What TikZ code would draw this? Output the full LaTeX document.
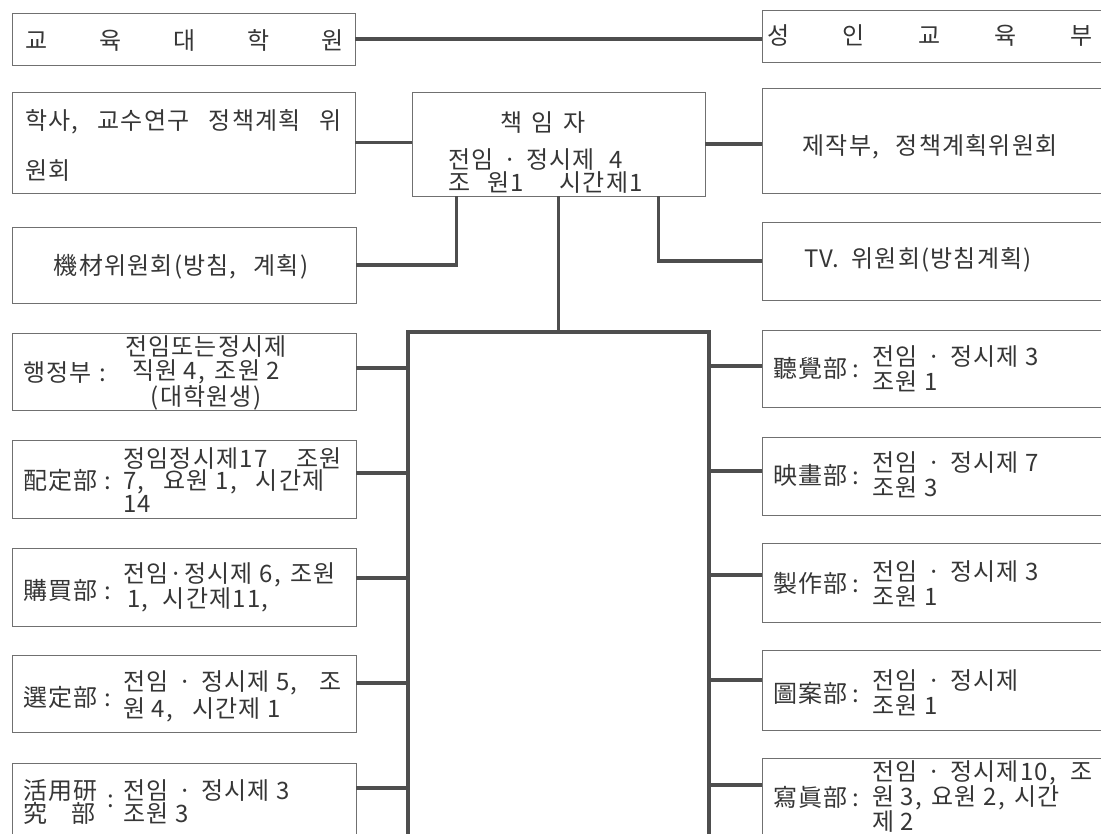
\documentclass[tikz,border=0pt]{standalone}
\usepackage{fontspec}
\setmainfont[LetterSpace=5]{Noto Sans CJK KR}
\usetikzlibrary{fit}
\definecolor{ink}{HTML}{363636}
\definecolor{boxline}{HTML}{707070}
\definecolor{bus}{HTML}{4E4E4E}
\newcommand{\kg}{\hspace{0.4em}}
\tikzset{
  box/.style={draw=boxline, line width=0.9pt, inner sep=0pt, rectangle},
  conn/.style={draw=bus, line width=3.6pt},
  txt/.style={text=ink, inner sep=0pt, font=\fontsize{24}{25}\selectfont, align=left},
}
\begin{document}
\begin{tikzpicture}[x=1pt,y=-1pt]
\useasboundingbox (0,0) rectangle (1101,834);
\clip (0,0) rectangle (1101,834);
% ---------- left boxes
\node[box, fit={(12,13)(355,65)}] (L1) {};
\node[box, fit={(12,92)(355,193)}] (L2) {};
\node[box, fit={(12,227)(356,303)}] (L3) {};
\node[box, fit={(12,333)(356,410)}] (L4) {};
\node[box, fit={(12,440)(356,518)}] (L5) {};
\node[box, fit={(12,548)(356,626)}] (L6) {};
\node[box, fit={(12,655)(356,732)}] (L7) {};
\node[box, fit={(12,763)(356,850)}] (L8) {};
% ---------- centre box
\node[box, fit={(412,92)(705,196)}] (C) {};
% ---------- right boxes
\node[box, fit={(762,10)(1120,62)}] (R1) {};
\node[box, fit={(762,88)(1120,193)}] (R2) {};
\node[box, fit={(762,222)(1120,300)}] (R3) {};
\node[box, fit={(762,330)(1120,407)}] (R4) {};
\node[box, fit={(762,437)(1120,515)}] (R5) {};
\node[box, fit={(762,543)(1120,622)}] (R6) {};
\node[box, fit={(762,650)(1120,730)}] (R7) {};
\node[box, fit={(762,758)(1120,850)}] (R8) {};

% ---------- texts
\node[txt, anchor=west] (tL1) at (25,40) {\makebox[318pt][s]{교\hfill 육\hfill 대\hfill 학\hfill 원}};
\node[txt, anchor=west, font=\fontsize{24}{50}\selectfont] (tL2) at (25,145) {학사,\hspace{0.8em}교수연구\hspace{0.8em}정책계획\hspace{0.8em}위\\원회};
\node[txt] (tL3) at (181,267) {機材위원회(방침,\hspace{0.7em}계획)};
\node[txt, anchor=west] (lL4) at (23,373) {행정부\hspace{0.3em}:};
\node[txt, align=center, font=\fontsize{24}{24.5}\selectfont] (cL4) at (206,372.5) {전임또는정시제\\직원 4,\kg 조원 2\\(대학원생)};
\node[txt, anchor=west] (lL5) at (23,480) {配定部\hspace{0.3em}:};
\node[txt, anchor=west, font=\fontsize{24}{22.5}\selectfont] (cL5) at (123,480) {정임정시제17\hspace{1.2em}조원\\7,\hspace{0.8em}요원 1,\hspace{0.8em}시간제\\14};
\node[txt, anchor=west] (lL6) at (23,590) {購買部\hspace{0.3em}:};
\node[txt, anchor=west] (cL6) at (123,587.5) {전임·정시제 6,\kg 조원\\\,1,\hspace{0.6em}시간제11,};
\node[txt, anchor=west] (lL7) at (23,697) {選定部\hspace{0.3em}:};
\node[txt, anchor=west, font=\fontsize{24}{27}\selectfont] (cL7) at (123,696.5) {전임\kg·\kg 정시제 5,\hspace{0.9em}조\\원 4,\hspace{0.8em}시간제 1};
\node[txt, anchor=west, font=\fontsize{24}{23}\selectfont] (lL8) at (23,801.5) {活用研\\\makebox[72pt][s]{究\hfill 部}};
\node[txt] (kL8) at (111,801.5) {:};
\node[txt, anchor=west, font=\fontsize{24}{23}\selectfont] (cL8) at (123,801.5) {전임\kg·\kg 정시제 3\\조원 3};

\node[txt] (tC1) at (543,123) {책\kg 임\kg 자};
\node[txt, anchor=west, font=\fontsize{24}{23}\selectfont] (tC2) at (448,171.5) {전임\kg·\kg 정시제\hspace{0.6em}4\\조\hspace{0.7em}원1\hspace{1.5em}시간제1};

\node[txt, anchor=west] (tR1) at (767,36) {\makebox[325pt][s]{성\hfill 인\hfill 교\hfill 육\hfill 부}};
\node[txt] (tR2) at (930,147) {제작부,\hspace{0.7em}정책계획위원회};
\node[txt] (tR3) at (918,260) {TV.\hspace{0.5em}위원회(방침계획)};
\node[txt, anchor=west] (lR4) at (773,368) {聽覺部\hspace{0.2em}:};
\node[txt, anchor=west] (cR4) at (872,368.5) {전임\kg·\kg 정시제 3\\조원 1};
\node[txt, anchor=west] (lR5) at (773,475) {映畫部\hspace{0.2em}:};
\node[txt, anchor=west] (cR5) at (872,475) {전임\kg·\kg 정시제 7\\조원 3};
\node[txt, anchor=west] (lR6) at (773,583) {製作部\hspace{0.2em}:};
\node[txt, anchor=west] (cR6) at (872,583.5) {전임\kg·\kg 정시제 3\\조원 1};
\node[txt, anchor=west] (lR7) at (773,693) {圖案部\hspace{0.2em}:};
\node[txt, anchor=west] (cR7) at (872,692.5) {전임\kg·\kg 정시제\\조원 1};
\node[txt, anchor=west] (lR8) at (773,797) {寫眞部\hspace{0.2em}:};
\node[txt, anchor=west, font=\fontsize{24}{23.5}\selectfont] (cR8) at (872,796.5) {전임\kg·\kg 정시제10,\hspace{0.6em}조\\원 3,\kg 요원 2,\kg 시간\\제 2};

% ---------- connectors
\coordinate (bl) at (408,332);
\coordinate (br) at (709,332);
\coordinate (blend) at (408,860);
\coordinate (brend) at (709,860);
\draw[conn] (L1.east) -- (L1.east -| R1.west);
\draw[conn] (L2.east) -- (L2.east -| C.west);
\draw[conn] (C.east) -- (C.east -| R2.west);
\draw[conn] ([xshift=45pt]C.south west) |- (L3.east);
\draw[conn] ([xshift=-47pt]C.south east) |- (R3.west);
\draw[conn] (C.south) -- (C.south |- bl);
\draw[conn, line join=miter] (blend) -- (bl) -- (br) -- (brend);
% left branches
\coordinate (b4) at (408,368);
\coordinate (b5) at (408,473);
\coordinate (b6) at (408,578);
\coordinate (b7) at (408,683);
\coordinate (b8) at (408,788);
\draw[conn] (b4 -| L4.east) -- (b4);
\draw[conn] (b5 -| L5.east) -- (b5);
\draw[conn] (b6 -| L6.east) -- (b6);
\draw[conn] (b7 -| L7.east) -- (b7);
\draw[conn] (b8 -| L8.east) -- (b8);
% right branches
\coordinate (c4) at (709,366);
\coordinate (c5) at (709,471);
\coordinate (c6) at (709,575);
\coordinate (c7) at (709,680);
\coordinate (c8) at (709,785);
\draw[conn] (c4) -- (c4 -| R4.west);
\draw[conn] (c5) -- (c5 -| R5.west);
\draw[conn] (c6) -- (c6 -| R6.west);
\draw[conn] (c7) -- (c7 -| R7.west);
\draw[conn] (c8) -- (c8 -| R8.west);
\end{tikzpicture}
\end{document}
